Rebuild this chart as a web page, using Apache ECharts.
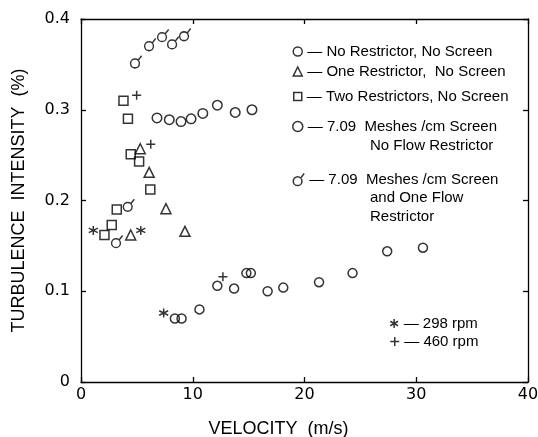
<!DOCTYPE html>
<html>
<head>
<meta charset="utf-8">
<script src="https://cdn.jsdelivr.net/npm/echarts@6/dist/echarts.min.js"></script>
<style>
html,body{margin:0;padding:0;background:#fff;}
#chart{width:538px;height:437px;}
</style>
</head>
<body>
<div id="chart"></div>
<script>
// ---- Data ----
const noRestNoScreenX = [8.4, 9.0, 10.6, 12.2, 13.7, 14.8, 15.2, 16.7, 18.1, 21.3, 24.3, 27.4, 30.6];
const noRestNoScreenY = [0.070, 0.070, 0.080, 0.106, 0.103, 0.120, 0.120, 0.100, 0.104, 0.110, 0.120, 0.144, 0.148];

const oneRestX = [4.45, 5.3, 6.1, 7.6, 9.3];
const oneRestY = [0.162, 0.257, 0.231, 0.191, 0.166];

const twoRestX = [2.1, 2.75, 3.2, 3.8, 4.2, 4.45, 5.2, 6.2];
const twoRestY = [0.162, 0.173, 0.190, 0.310, 0.290, 0.251, 0.243, 0.212];

const screenNoRestX = [6.8, 7.9, 8.95, 9.85, 10.9, 12.2, 13.8, 15.3];
const screenNoRestY = [0.291, 0.289, 0.287, 0.290, 0.296, 0.305, 0.297, 0.300];

const screenOneRestX = [3.13, 4.18, 4.83, 6.09, 7.25, 8.15, 9.22];
const screenOneRestY = [0.153, 0.193, 0.351, 0.370, 0.380, 0.372, 0.381];

const rpm298X = [1.1, 5.35, 7.4];
const rpm298Y = [0.167, 0.167, 0.076];

const rpm460X = [4.98, 6.24, 12.7];
const rpm460Y = [0.316, 0.262, 0.116];

const xTicks = [0, 10, 20, 30, 40];
const yTicks = [0, 0.1, 0.2, 0.3, 0.4];

const seriesNames = [
  'No Restrictor, No Screen',
  'One Restrictor,  No Screen',
  'Two Restrictors, No Screen',
  '7.09  Meshes /cm Screen|No Flow Restrictor',
  '7.09  Meshes /cm Screen|and One Flow|Restrictor',
  '298 rpm',
  '460 rpm'
];

// ---- Styling / building ----
const pair = (xs, ys) => xs.map((x, i) => [x, ys[i]]);
const tailCircle = 'path://M1,9A4,4 0 1,1 9,9A4,4 0 1,1 1,9ZM7.8,6.2L11,2';
const asterisk = 'path://M5,0L5,10M0.67,2.5L9.33,7.5M0.67,7.5L9.33,2.5';
const plus = 'path://M5,0L5,10M0,5L10,5';
const stroke = {color: 'rgba(0,0,0,0)', borderColor: '#000', borderWidth: 1.5};

function sc(name, data, symbol, size, extra) {
  return Object.assign({
    type: 'scatter', name: name, data: data, symbol: symbol, symbolSize: size,
    itemStyle: stroke, emphasis: {disabled: true}, z: 3
  }, extra || {});
}

const series = [
  sc(seriesNames[0], pair(noRestNoScreenX, noRestNoScreenY), 'circle', 9),
  sc(seriesNames[1], pair(oneRestX, oneRestY), 'triangle', 10),
  sc(seriesNames[2], pair(twoRestX, twoRestY), 'rect', 9),
  sc(seriesNames[3], pair(screenNoRestX, screenNoRestY), 'circle', 9.5),
  sc(seriesNames[4], pair(screenOneRestX, screenOneRestY), tailCircle, [11, 12.1], {symbolOffset: [1.1, -1.65]}),
  sc(seriesNames[5], pair(rpm298X, rpm298Y), asterisk, 9),
  sc(seriesNames[6], pair(rpm460X, rpm460Y), plus, 9)
];

const legendFont = {color: '#000', fontSize: 15, fontFamily: 'Liberation Sans, Arial, sans-serif'};
const legendRows = [
  {i: 0, icon: 'circle', cx: 297, cy: 53, w: 9, h: 9},
  {i: 1, icon: 'triangle', cx: 297, cy: 73, w: 9, h: 9},
  {i: 2, icon: 'rect', cx: 297, cy: 98, w: 8, h: 8},
  {i: 3, icon: 'circle', cx: 297, cy: 128, w: 10, h: 10},
  {i: 4, icon: tailCircle, cx: 298, cy: 181, w: 11, h: 12},
  {i: 5, icon: asterisk, cx: 394, cy: 325, w: 9, h: 9},
  {i: 6, icon: plus, cx: 394, cy: 343, w: 9, h: 9}
];
const legends = legendRows.map(r => ({
  data: [{name: seriesNames[r.i], icon: r.icon}],
  left: r.cx - r.w / 2, top: r.cy - 9,
  padding: 0, itemWidth: r.w, itemHeight: r.h, itemGap: 0,
  selectedMode: false,
  itemStyle: {color: 'rgba(0,0,0,0)', borderColor: '#000', borderWidth: 1.5},
  textStyle: legendFont,
  formatter: name => '— ' + name.split('|')[0]
}));

const contLines = [];
[[3, 147, 370], [4, 199, 370]].forEach(([si, y0, x0]) => {
  seriesNames[si].split('|').slice(1).forEach((t, k) => {
    contLines.push({type: 'text', left: x0, top: y0 + k * 19 - 9,
      style: {text: t, fill: '#000', font: '15px "Liberation Sans", Arial, sans-serif'}});
  });
});

const axisLineStyle = {show: true, onZero: false, lineStyle: {color: '#000', width: 1.3}};
const tickStyle = {show: true, inside: true, length: 5, lineStyle: {color: '#000', width: 1.3}};
const labelFont = {color: '#000', fontSize: 16, fontFamily: 'DejaVu Sans, sans-serif'};
const nameFont = {color: '#000', fontSize: 18, fontFamily: 'Liberation Sans, Arial, sans-serif'};

const option = {
  animation: false,
  backgroundColor: '#fff',
  grid: {left: 81, right: 10, top: 19, bottom: 55, containLabel: false, outerBoundsMode: 'none'},
  legend: legends,
  graphic: contLines,
  xAxis: [
    {type: 'value', min: xTicks[0], max: xTicks[xTicks.length - 1], interval: xTicks[1] - xTicks[0],
     position: 'bottom', axisLine: axisLineStyle, axisTick: tickStyle, splitLine: {show: false},
     axisLabel: Object.assign({margin: 5}, labelFont),
     name: 'VELOCITY  (m/s)', nameLocation: 'middle', nameGap: 38,
     nameTextStyle: Object.assign({padding: [0, 52, 0, 0]}, nameFont)},
    {type: 'value', min: xTicks[0], max: xTicks[xTicks.length - 1], interval: xTicks[1] - xTicks[0],
     position: 'top', axisLine: axisLineStyle, axisTick: tickStyle, splitLine: {show: false},
     axisLabel: {show: false}}
  ],
  yAxis: [
    {type: 'value', min: yTicks[0], max: yTicks[yTicks.length - 1], interval: 0.1,
     position: 'left', axisLine: axisLineStyle, axisTick: tickStyle, splitLine: {show: false},
     axisLabel: Object.assign({margin: 11, formatter: v => v === 0 ? '0' : v.toFixed(1)}, labelFont),
     name: 'TURBULENCE  INTENSITY  (%)', nameLocation: 'middle', nameGap: 53, nameRotate: 90,
     nameTextStyle: nameFont},
    {type: 'value', min: yTicks[0], max: yTicks[yTicks.length - 1], interval: 0.1,
     position: 'right', axisLine: axisLineStyle, axisTick: tickStyle, splitLine: {show: false},
     axisLabel: {show: false}}
  ],
  series: series
};

const chart = echarts.init(document.getElementById('chart'), null, {renderer: 'canvas'});
chart.setOption(option);
</script>
</body>
</html>
